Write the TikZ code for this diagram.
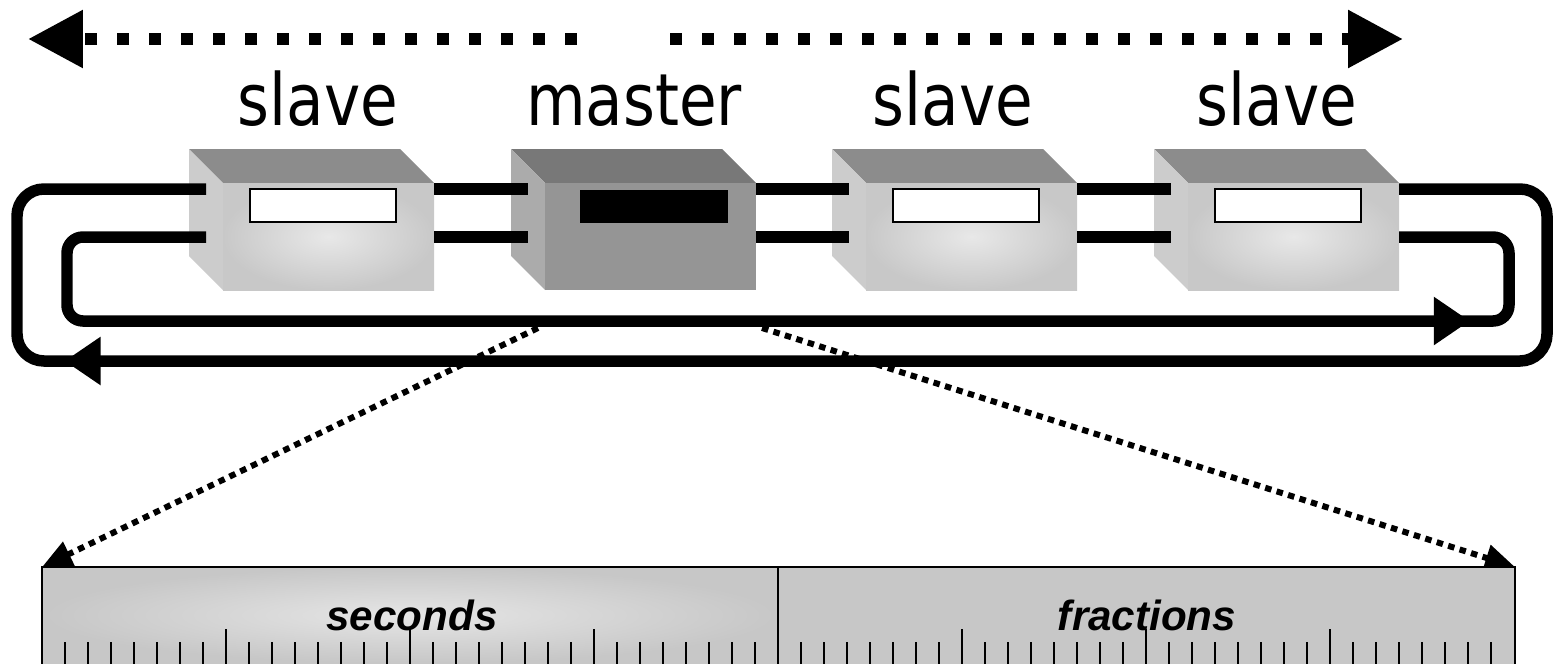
\documentclass[tikz,border=0pt]{standalone}
\usepackage{fontspec}
\usetikzlibrary{arrows.meta,decorations.markings}
\newfontfamily\labelfont[FakeStretch=0.85]{DejaVu Sans}
\newfontfamily\rulerfont{Liberation Sans}

\definecolor{slavetop}{gray}{0.55}
\definecolor{slaveside}{gray}{0.80}
\definecolor{slavefront}{gray}{0.785}
\definecolor{slavelight}{gray}{0.91}
\definecolor{mastertop}{gray}{0.47}
\definecolor{masterside}{gray}{0.67}
\definecolor{masterfront}{gray}{0.585}
\definecolor{rulergray}{gray}{0.78}
\definecolor{rulerlight}{gray}{0.90}

\tikzset{
  wire/.style={line width=0.23cm},
  ring/.style={line width=0.23cm, rounded corners=#1},
  ringtip/.style={postaction={decorate}, decoration={markings,
      mark=at position #1 with {\arrow{Triangle[length=0.72cm,width=0.92cm]}}}},
  span/.style={line width=0.24cm, dash pattern=on 0.24cm off 0.4cm,
      -{Triangle[length=1.1cm,width=1.1cm]}},
  zoomline/.style={line width=0.12cm, dash pattern=on 0.13cm off 0.11cm,
      -{Triangle[length=0.6cm,width=0.52cm]}},
  boxlabel/.style={font=\labelfont\fontsize{41}{41}\selectfont, anchor=base, inner sep=0pt},
  rulerlabel/.style={font=\rulerfont\bfseries\itshape\fontsize{24}{24}\selectfont, anchor=base, inner sep=0pt},
  tick/.style={line width=0.04cm},
}

\begin{document}
\begin{tikzpicture}[x=0.02cm, y=-0.02cm]
  \useasboundingbox (0,0) rectangle (1558,663);
  \clip (0,0) rectangle (1558,663);

  % span arrows over the ring
  \coordinate (midL) at (577,39);
  \coordinate (midR) at (670,39);
  \coordinate (farL) at (28,39);
  \coordinate (farR) at (1403,39);
  \draw[span] (midL) -- (farL);
  \draw[span] (midR) -- (farR);

  % labels
  \node[boxlabel] (slave1) at (318,125) {slave};
  \node[boxlabel] (master) at (634,125) {master};
  \node[boxlabel] (slave2) at (953,125) {slave};
  \node[boxlabel] (slave3) at (1277,125) {slave};

  % slave boxes
  \foreach \x in {189, 832, 1154} {
    \fill[slavetop] (\x,149) -- ++(211,0) -- ++(34,34) -- ++(-211,0) -- cycle;
    \fill[slaveside] (\x,149) -- ++(34,34) -- ++(0,107) -- ++(-34,-34) -- cycle;
    \shade[inner color=slavelight, outer color=slavefront] (\x+34,183) rectangle ++(211,107);
    \draw[fill=white, line width=0.04cm] (\x+61,189) rectangle ++(146,33);
  }
  % master box
  \fill[mastertop] (511,149) -- ++(211,0) -- ++(34,34) -- ++(-211,0) -- cycle;
  \fill[masterside] (511,149) -- ++(34,34) -- ++(0,107) -- ++(-34,-34) -- cycle;
  \fill[masterfront] (545,183) rectangle ++(211,107);
  \fill[black] (580,190) rectangle (728,223);

  % wire ends on the boxes
  \coordinate (inA1) at (206,189);
  \coordinate (inB1) at (206,237);
  \coordinate (outA1) at (434,189);
  \coordinate (outB1) at (434,237);
  \coordinate (inA2) at (528,189);
  \coordinate (inB2) at (528,237);
  \coordinate (outA2) at (756,189);
  \coordinate (outB2) at (756,237);
  \coordinate (inA3) at (849,189);
  \coordinate (inB3) at (849,237);
  \coordinate (outA3) at (1077,189);
  \coordinate (outB3) at (1077,237);
  \coordinate (inA4) at (1171,189);
  \coordinate (inB4) at (1171,237);
  \coordinate (outA4) at (1399,189);
  \coordinate (outB4) at (1399,237);
  \draw[wire] (outA1) -- (inA2);
  \draw[wire] (outB1) -- (inB2);
  \draw[wire] (outA2) -- (inA3);
  \draw[wire] (outB2) -- (inB3);
  \draw[wire] (outA3) -- (inA4);
  \draw[wire] (outB3) -- (inB4);

  % the two rings
  \draw[ring=0.54cm, ringtip=-7.71cm] (outA4) -| (1547,361) -| (17,189) -- (inA1);
  \draw[ring=0.32cm, ringtip=-4.39cm] (inB1) -| (67,321) -| (1509,237) -- (outB4);

  % zoom onto the master's clock
  \coordinate (zoomL) at (538,328);
  \coordinate (zoomR) at (762,328);
  \coordinate (rulerNW) at (42,567);
  \coordinate (rulerNE) at (1515,567);
  \draw[zoomline] (zoomL) -- (rulerNW);
  \draw[zoomline] (zoomR) -- (rulerNE);

  % clock register
  \shade[inner color=rulerlight, outer color=rulergray] (42,567) rectangle (778,663);
  \fill[rulergray] (778,567) rectangle (1515,680);
  \draw[line width=0.04cm] (42,680) |- (rulerNE) -- (1515,680);
  \draw[line width=0.03cm] (778,567) -- (778,680);
  \node[rulerlabel] (seconds) at (412,630) {seconds};
  \node[rulerlabel] (fractions) at (1147,630) {fractions};
  \foreach \s in {42, 778} {
    \foreach \k in {1,...,31} {
      \pgfmathsetmacro\tickend{mod(\k,8)==0 ? 629 : 642}
      \draw[tick] (\s+\k*23,\tickend) -- (\s+\k*23,680);
    }
  }
\end{tikzpicture}
\end{document}
